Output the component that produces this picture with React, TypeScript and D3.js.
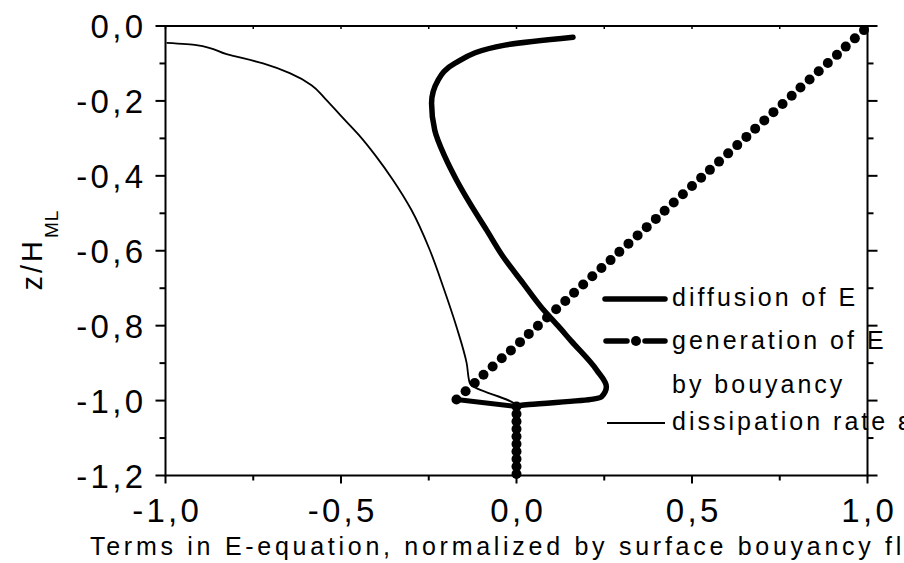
import React from "react";
import * as d3 from "d3";

const W = 904;
const H = 563;

// diffusion of E : [x value, z/H_ML]
const diffX = [0.161, -0.033, -0.176, -0.223, -0.242, -0.233, -0.204, -0.171, -0.133, -0.085, -0.038, 0.019, 0.070, 0.118, 0.155, 0.228, 0.256, 0.242, 0.218, 0.0, 0.0];
const diffZ = [-0.030, -0.051, -0.100, -0.144, -0.206, -0.278, -0.349, -0.411, -0.473, -0.545, -0.616, -0.687, -0.750, -0.800, -0.840, -0.918, -0.963, -0.990, -0.996, -1.016, -1.2];

// generation of E by bouyancy
const genX = [0.990, 0.964, 0.938, 0.913, 0.887, 0.861, 0.835, 0.809, 0.784, 0.758, 0.732, 0.706, 0.680, 0.655, 0.629, 0.603, 0.577, 0.551, 0.526, 0.500, 0.474, 0.448, 0.422, 0.397, 0.371, 0.345, 0.319, 0.293, 0.268, 0.242, 0.216, 0.190, 0.164, 0.139, 0.113, 0.087, 0.061, 0.035, 0.010, -0.016, -0.042, -0.068, -0.094, -0.119, -0.145, -0.171, 0, 0, 0, 0, 0, 0, 0, 0, 0, 0];
const genZ = [-0.011, -0.033, -0.055, -0.077, -0.099, -0.121, -0.143, -0.164, -0.186, -0.208, -0.230, -0.252, -0.274, -0.296, -0.318, -0.340, -0.362, -0.384, -0.405, -0.427, -0.449, -0.471, -0.493, -0.515, -0.537, -0.559, -0.581, -0.603, -0.625, -0.646, -0.668, -0.690, -0.712, -0.734, -0.756, -0.778, -0.800, -0.822, -0.844, -0.866, -0.887, -0.909, -0.931, -0.953, -0.975, -0.997, -1.016, -1.036, -1.056, -1.076, -1.096, -1.116, -1.136, -1.156, -1.176, -1.196];

// dissipation rate
const dissX = [-0.997, -0.912, -0.826, -0.722, -0.646, -0.584, -0.546, -0.500, -0.450, -0.400, -0.352, -0.300, -0.247, -0.209, -0.171, -0.142, -0.133, 0.0, 0.0];
const dissZ = [-0.045, -0.051, -0.075, -0.100, -0.126, -0.158, -0.193, -0.240, -0.290, -0.348, -0.411, -0.490, -0.598, -0.696, -0.803, -0.900, -0.954, -1.016, -1.2];

const xMajor = [-1.0, -0.5, 0.0, 0.5, 1.0];
const xMinor = [-0.75, -0.25, 0.25, 0.75];
const yMajor = [0.0, -0.2, -0.4, -0.6, -0.8, -1.0, -1.2];
const yMinor = [-0.1, -0.3, -0.5, -0.7, -0.9, -1.1];

const xTitle = "Terms in E-equation, normalized by surface bouyancy flux";
const legendLabels = ["diffusion of E", "generation of E", "by bouyancy", "dissipation rate ε"];

const fmt = (v: number) => d3.format(".1f")(v).replace(".", ",").replace("−", "-");

export default function App() {
  const x = d3.scaleLinear().domain([-1, 1]).range([165.5, 867.5]);
  const y = d3.scaleLinear().domain([-1.2, 0]).range([475.5, 26]);

  const smooth = d3
    .line<[number, number]>()
    .x((d) => x(d[0]))
    .y((d) => y(d[1]))
    .curve(d3.curveMonotoneY);

  const diff: [number, number][] = diffX.map((v, i) => [v, diffZ[i]]);
  const gen: [number, number][] = genX.map((v, i) => [v, genZ[i]]);
  const diss: [number, number][] = dissX.map((v, i) => [v, dissZ[i]]);

  // generation line: the dash is only visible where markers are far apart
  const genSegs = gen.slice(1).map((d, i) => [gen[i], d] as [[number, number], [number, number]]).filter(
    ([a, b]) => Math.hypot(x(a[0]) - x(b[0]), y(a[1]) - y(b[1])) > 20
  );

  const font = "'Liberation Sans', Arial, sans-serif";
  const [x0, x1] = x.range();
  const [y0, y1] = y.range();

  return (
    <svg
      width={W}
      height={H}
      style={{ position: "fixed", left: 0, top: 0, background: "#fff", overflow: "hidden" }}
      fontFamily={font}
    >
      <rect x={0} y={0} width={W} height={H} fill="#fff" />

      {/* data */}
      <path d={smooth(diss) || ""} fill="none" stroke="#000" strokeWidth={1.8} strokeLinejoin="round" />
      <path d={smooth(diff) || ""} fill="none" stroke="#000" strokeWidth={5.5} strokeLinejoin="round" strokeLinecap="round" />
      {genSegs.map(([a, b], i) => (
        <line key={"gs" + i} x1={x(a[0])} y1={y(a[1])} x2={x(b[0])} y2={y(b[1])} stroke="#000" strokeWidth={5} />
      ))}
      {gen.map((d, i) => (
        <circle key={i} cx={x(d[0])} cy={y(d[1])} r={5} fill="#000" />
      ))}

      {/* legend */}
      <g>
        <line x1={605} x2={665} y1={299} y2={299} stroke="#000" strokeWidth={5.5} strokeLinecap="round" />
        <line x1={606} x2={627} y1={341} y2={341} stroke="#000" strokeWidth={5.5} strokeLinecap="round" />
        <line x1={645} x2={665} y1={341} y2={341} stroke="#000" strokeWidth={5.5} strokeLinecap="round" />
        <circle cx={636} cy={341} r={5} fill="#000" />
        <line x1={607} x2={665} y1={423} y2={423} stroke="#000" strokeWidth={1.8} />
        {legendLabels.map((t, i) => (
          <text
            key={t}
            x={672}
            y={[306, 349, 393, 430][i]}
            fontSize={25}
            letterSpacing={3}
            fill="#000"
          >
            {t}
          </text>
        ))}
      </g>

      {/* frame */}
      <rect x={x0} y={y1} width={x1 - x0} height={y0 - y1} fill="none" stroke="#000" strokeWidth={2} />

      {/* left axis ticks */}
      {yMajor.map((v) => (
        <line key={"lM" + v} x1={x0 - 10} x2={x0} y1={y(v)} y2={y(v)} stroke="#000" strokeWidth={2} />
      ))}
      {yMinor.map((v) => (
        <line key={"lm" + v} x1={x0 - 6} x2={x0} y1={y(v)} y2={y(v)} stroke="#000" strokeWidth={2} />
      ))}
      {/* right axis ticks */}
      {yMajor.map((v) => (
        <line key={"rM" + v} x1={x1} x2={x1 + 10} y1={y(v)} y2={y(v)} stroke="#000" strokeWidth={2} />
      ))}
      {yMinor.map((v) => (
        <line key={"rm" + v} x1={x1} x2={x1 + 6} y1={y(v)} y2={y(v)} stroke="#000" strokeWidth={2} />
      ))}
      {/* bottom ticks */}
      {xMajor.map((v) => (
        <line key={"bM" + v} x1={x(v)} x2={x(v)} y1={y0} y2={y0 + 8} stroke="#000" strokeWidth={2} />
      ))}
      {xMinor.map((v) => (
        <line key={"bm" + v} x1={x(v)} x2={x(v)} y1={y0} y2={y0 + 5} stroke="#000" strokeWidth={2} />
      ))}
      {/* top ticks */}
      {xMajor.concat(xMinor).map((v) => (
        <line key={"t" + v} x1={x(v)} x2={x(v)} y1={y1} y2={y1 + 3} stroke="#000" strokeWidth={1.5} />
      ))}

      {/* tick labels */}
      {yMajor.map((v) => (
        <text key={"yl" + v} x={143 + 3.3} y={y(v) + 12} fontSize={33} letterSpacing={3.3} textAnchor="end" fill="#000">
          {fmt(v)}
        </text>
      ))}
      {xMajor.map((v) => (
        <text key={"xl" + v} x={x(v) + 1.7} y={522} fontSize={33} letterSpacing={3.3} textAnchor="middle" fill="#000">
          {fmt(v)}
        </text>
      ))}

      {/* axis titles */}
      <text x={90} y={555} fontSize={25} letterSpacing={3.72} fill="#000">
        {xTitle}
      </text>
      <text transform="translate(42,250) rotate(-90)" fontSize={29} letterSpacing={3} textAnchor="middle" fill="#000">
        z/H
        <tspan fontSize={19} dy={16} letterSpacing={1}>
          ML
        </tspan>
      </text>
    </svg>
  );
}
